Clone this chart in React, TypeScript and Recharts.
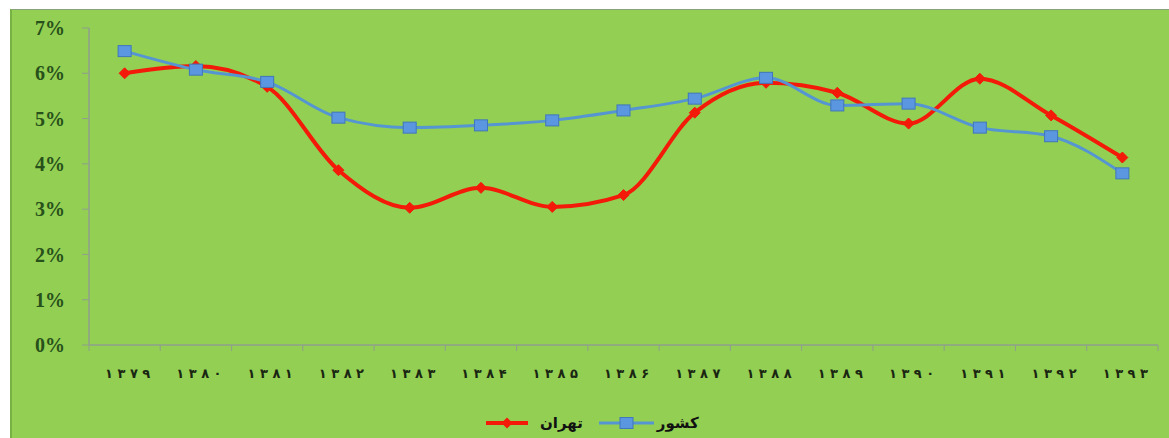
import React from 'react';
import { LineChart, Line, XAxis, YAxis, Legend } from 'recharts';

const categories = ['۱۳۷۹', '۱۳۸۰', '۱۳۸۱', '۱۳۸۲', '۱۳۸۳', '۱۳۸۴', '۱۳۸۵', '۱۳۸۶', '۱۳۸۷', '۱۳۸۸', '۱۳۸۹', '۱۳۹۰', '۱۳۹۱', '۱۳۹۲', '۱۳۹۳'];
const tehran = [6.0, 6.16, 5.7, 3.86, 3.03, 3.47, 3.05, 3.31, 5.13, 5.79, 5.57, 4.89, 5.88, 5.07, 4.14];
const country = [6.49, 6.08, 5.81, 5.02, 4.8, 4.85, 4.96, 5.18, 5.44, 5.9, 5.29, 5.33, 4.8, 4.61, 3.79];
const yTicks = [0, 1, 2, 3, 4, 5, 6, 7];
const seriesNames = { tehran: 'تهران', country: 'کشور' };

const data = categories.map((c, i) => ({ year: c, tehran: tehran[i], country: country[i] }));

const W = 1169;
const H = 438;
const MARGIN = { top: 28, right: 11, left: 0, bottom: 0 };
const Y_W = 89;
const STEP = (W - MARGIN.right - MARGIN.left - Y_W) / categories.length;

const RED = '#f41a0a';
const BLUE = '#5596d2';
const SQ_FILL = '#5b97e0';
const SQ_STROKE = '#3f76bc';

const Diamond = (props: any) => {
  const { cx, cy } = props;
  if (cx == null || cy == null) return <g key={props.key} />;
  const r = 5.5;
  return (
    <path
      key={props.key}
      d={`M${cx},${cy - r}L${cx + r},${cy}L${cx},${cy + r}L${cx - r},${cy}Z`}
      fill={RED}
      stroke={RED}
      strokeWidth={1}
    />
  );
};

const Square = (props: any) => {
  const { cx, cy } = props;
  if (cx == null || cy == null) return <g key={props.key} />;
  return (
    <rect key={props.key} x={cx - 6.5} y={cy - 5.5} width={13} height={11} fill={SQ_FILL} stroke={SQ_STROKE} strokeWidth={1} />
  );
};

const XTick = (props: any) => {
  const { x, y, payload, index } = props;
  const axisY = y - 8;
  const chars = Array.from(String(payload.value));
  return (
    <g>
      <line x1={x - STEP / 2} y1={axisY} x2={x - STEP / 2} y2={axisY + 6} stroke="#8f9f8c" strokeWidth={1} />
      {index === categories.length - 1 && (
        <line x1={x + STEP / 2} y1={axisY} x2={x + STEP / 2} y2={axisY + 6} stroke="#8f9f8c" strokeWidth={1} />
      )}
      <text
        x={x + 3}
        y={axisY + 33}
        textAnchor="middle"
        fill="#1a2612"
        fontFamily="DejaVu Sans"
        fontWeight="bold"
        fontSize={13}
      >
        {chars.map((ch, i) => (
          <tspan key={i} dx={i === 0 ? 0 : 4.5}>
            {ch}
          </tspan>
        ))}
      </text>
    </g>
  );
};

const LegendContent = () => (
  <div style={{ height: 40, display: 'flex', alignItems: 'center', paddingTop: 10, boxSizing: 'border-box', fontFamily: 'DejaVu Sans', fontWeight: 'bold', fontSize: 15, color: '#111' }}>
    <svg width={42} height={14} style={{ marginLeft: 486 }}>
      <line x1={0} y1={7} x2={42} y2={7} stroke={RED} strokeWidth={4} />
      <path d="M21,1.5L26.5,7L21,12.5L15.5,7Z" fill={RED} />
    </svg>
    <span style={{ marginLeft: 12 }}>{seriesNames.tehran}</span>
    <svg width={55} height={14} style={{ marginLeft: 16 }}>
      <line x1={0} y1={7} x2={55} y2={7} stroke={BLUE} strokeWidth={3} />
      <rect x={21} y={1.5} width={13} height={11} fill={SQ_FILL} stroke={SQ_STROKE} />
    </svg>
    <span style={{ marginLeft: 3 }}>{seriesNames.country}</span>
  </div>
);

export default function App() {
  return (
    <div style={{ position: 'absolute', left: 0, top: 0, width: W, height: H, background: '#fff', overflow: 'hidden' }}>
      <div
        style={{
          position: 'absolute',
          left: 10,
          top: 9,
          width: W - 10,
          height: H - 9,
          background: '#92cf52',
          borderLeft: '2px solid #78b244',
          borderTop: '1px solid #8aa27a',
          boxSizing: 'border-box',
        }}
      />
      <div style={{ position: 'absolute', left: 0, top: 0 }}>
        <LineChart width={W} height={H} data={data} margin={MARGIN}>
          <XAxis
            dataKey="year"
            scale="band"
            height={53}
            axisLine={{ stroke: '#8f9f8c', strokeWidth: 1.5 }}
            tickLine={false}
            tick={<XTick />}
            interval={0}
          />
          <YAxis
            width={Y_W}
            domain={[0, 7]}
            ticks={yTicks}
            tickFormatter={(v: number) => `${v}%`}
            axisLine={{ stroke: '#8f9f8c', strokeWidth: 1.5 }}
            tickLine={{ stroke: '#8f9f8c' }}
            tickSize={7}
            tickMargin={17}
            tick={{ fill: '#27501a', fontFamily: 'Liberation Serif', fontWeight: 'bold', fontSize: 20 }}
          />
          <Legend verticalAlign="bottom" align="left" content={<LegendContent />} wrapperStyle={{ bottom: 0, left: 0 }} />
          <Line
            type="monotone"
            dataKey="tehran"
            name={seriesNames.tehran}
            stroke={RED}
            strokeWidth={4}
            dot={(p: any) => <Diamond {...p} />}
            activeDot={false}
            isAnimationActive={false}
          />
          <Line
            type="monotone"
            dataKey="country"
            name={seriesNames.country}
            stroke={BLUE}
            strokeWidth={3}
            dot={(p: any) => <Square {...p} />}
            activeDot={false}
            isAnimationActive={false}
          />
        </LineChart>
      </div>
    </div>
  );
}
